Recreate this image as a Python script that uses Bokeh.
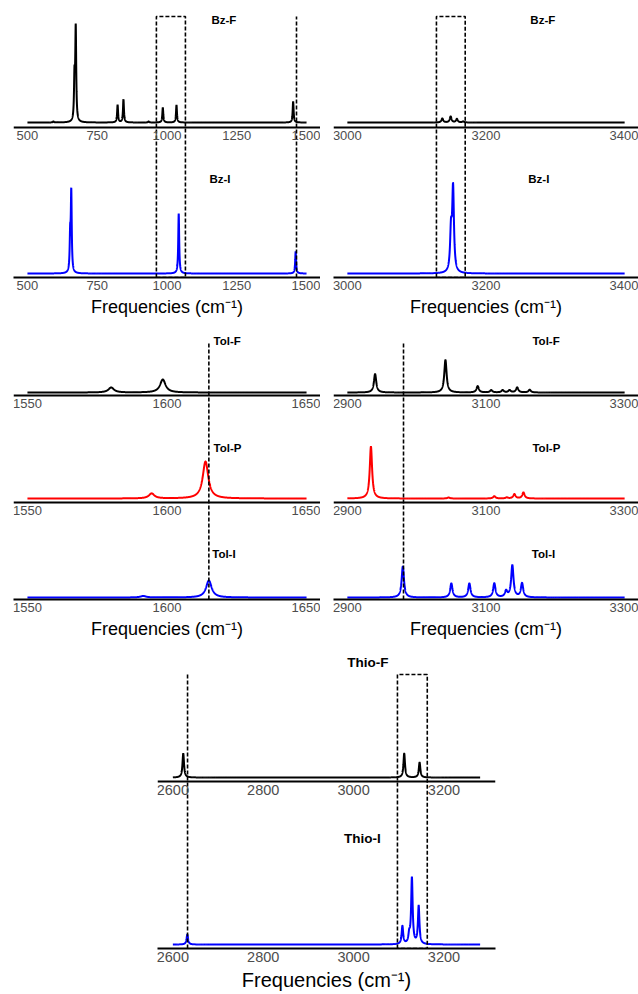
import numpy as np
from bokeh.plotting import figure
from bokeh.models import LinearAxis, FixedTicker, Range1d
from bokeh.layouts import column, row
from bokeh.embed import file_html
from bokeh.resources import INLINE
from bokeh.core.properties import value

# ---------------- data: peak positions (cm-1) and intensities (a.u.) ----------------
# Benzene, low-frequency window
bzF_lo_pos = [593, 668.5, 673, 823, 844, 934, 985, 1034, 1452]
bzF_lo_int = [1.0, 42, 92, 17.5, 23, 1.0, 15, 17.5, 21]
bzI_lo_pos = [653, 657, 1042, 1461]
bzI_lo_int = [34, 79, 60, 22]
# Benzene, C-H stretch window
bzF_hi_pos = [3137, 3149, 3158, 3167]
bzF_hi_int = [4.0, 6.0, 3.5, 1.0]
bzI_hi_pos = [3149.5, 3152.5]
bzI_hi_int = [39, 83]
# Toluene, ring-stretch window
tolF_lo_pos = [1580, 1598.5]
tolF_lo_int = [5, 13]
tolP_lo_pos = [1594.5, 1613.8]
tolP_lo_int = [5, 37]
tolI_lo_pos = [1591.5, 1615]
tolI_lo_int = [1.5, 17]
# Toluene, C-H stretch window
tolF_hi_pos = [2940, 3041.5, 3088, 3107.5, 3124, 3134, 3145, 3163]
tolF_hi_int = [18.5, 32.5, 6.3, 2.3, 2.3, 2.3, 5.0, 2.7]
tolP_hi_pos = [2934, 3046, 3112, 3130, 3141, 3154]
tolP_hi_int = [52, 1.0, 2.3, 1.0, 4.3, 6.0]
tolI_hi_pos = [2980, 3050, 3076, 3112, 3129, 3138, 3152]
tolI_hi_int = [31, 14, 14, 14, 6, 32, 14]
# Thiophene
thioF_pos = [2623, 3112, 3146]
thioF_int = [24, 24, 15]
thioI_pos = [2632, 3108, 3123, 3129, 3144]
thioI_int = [10, 18, 8.6, 66, 38]

# marker frequencies (dashed guides)
bz_lo_box = [962, 1066]
bz_lo_line = [1464]
bz_hi_box = [3128.5, 3170]
tol_lo_line = [1615]
tol_hi_line = [2981]
thio_line = [2632.5]
thio_box = [3097, 3163]

# tick labels
ticks_bz_lo = [500, 750, 1000, 1250, 1500]
ticks_bz_hi = [3000, 3200, 3400]
ticks_tol_lo = [1550, 1600, 1650]
ticks_tol_hi = [2900, 3100, 3300]
ticks_thio = [2600, 2800, 3000, 3200]

FONT = "Liberation Sans"
TITLE = "Frequencies (cm\u207b\u00b9)"


def spectrum(pos, inten, lo, hi, hwhm, step):
    x = np.arange(lo, hi + step / 2, step)
    y = np.zeros_like(x)
    for p0, a in zip(pos, inten):
        y += a / (1.0 + ((x - p0) / hwhm) ** 2)
    return x, y


def style_axis(ax, ticks, tick_size):
    ax.ticker = FixedTicker(ticks=ticks)
    ax.axis_line_color = "black"
    ax.axis_line_width = 1.9
    ax.major_tick_line_color = None
    ax.minor_tick_line_color = None
    ax.major_tick_out = 0
    ax.major_tick_in = 0
    ax.major_label_standoff = 3
    ax.major_label_text_font = FONT
    ax.major_label_text_font_size = tick_size
    ax.major_label_text_color = "#4d4d4d"


def make_fig(width, height, xr, frame_h, min_left, min_right, bottom, ticks,
             tick_size, title_size):
    p = figure(width=width, height=height, x_range=Range1d(*xr),
               y_range=Range1d(0, frame_h), output_backend="svg",
               toolbar_location=None, y_axis_location=None,
               min_border_left=min_left, min_border_right=min_right,
               min_border_top=0, min_border_bottom=bottom,
               outline_line_color=None, background_fill_color="white",
               border_fill_color="white")
    p.grid.visible = False
    ax = p.xaxis[0]
    style_axis(ax, ticks, tick_size)
    ax.axis_label = TITLE
    ax.axis_label_text_font = FONT
    ax.axis_label_text_font_size = title_size
    ax.axis_label_text_font_style = "normal"
    ax.axis_label_text_color = "black"
    ax.axis_label_standoff = 4
    return p


def add_fixed_axis(p, loc, ticks, tick_size):
    ax = LinearAxis(fixed_location=loc)
    style_axis(ax, ticks, tick_size)
    p.add_layout(ax, "below")


def add_spec(p, pos, inten, lo, hi, hwhm, step, base, color):
    x, y = spectrum(pos, inten, lo, hi, hwhm, step)
    p.line(x, y + base, line_color=color, line_width=2.0)


def add_label(p, x, y, txt, size):
    p.text(x=[x], y=[y], text=[txt], text_font=value(FONT),
           text_font_style="bold", text_font_size=size,
           text_baseline="middle", text_align="left", text_color="black")


def add_vline(p, x, top):
    p.line([x, x], [0, top], line_color="black", line_width=1.6, line_dash="4 2")


def add_box(p, x0, x1, top):
    p.line([x0, x0, x1, x1, x0], [0, top, top, 0, 0], line_color="black",
           line_width=1.6, line_dash="4 2")


LBL = "11.5px"

# ---------------- top row: benzene ----------------
pA = make_fig(320, 322, (450, 1550), 277, 13, 0, 45, ticks_bz_lo, "13px", "18px")
add_fixed_axis(pA, 150, ticks_bz_lo, "13px")
add_spec(pA, bzF_lo_pos, bzF_lo_int, 500, 1500, 2.0, 0.25, 155, "black")
add_spec(pA, bzI_lo_pos, bzI_lo_int, 500, 1500, 2.0, 0.25, 4, "blue")
add_box(pA, bz_lo_box[0], bz_lo_box[1], 261)
add_vline(pA, bz_lo_line[0], 261)
add_label(pA, 1159, 258, "Bz-F", LBL)
add_label(pA, 1152, 99, "Bz-I", LBL)

pB = make_fig(318, 322, (2980, 3420), 277, 13, 0, 45, ticks_bz_hi, "13px", "18px")
add_fixed_axis(pB, 150, ticks_bz_hi, "13px")
add_spec(pB, bzF_hi_pos, bzF_hi_int, 3000, 3400, 1.5, 0.1, 155, "black")
add_spec(pB, bzI_hi_pos, bzI_hi_int, 3000, 3400, 1.5, 0.1, 4, "blue")
add_box(pB, bz_hi_box[0], bz_hi_box[1], 261)
add_label(pB, 3264, 258, "Bz-F", LBL)
add_label(pB, 3261, 99, "Bz-I", LBL)

# ---------------- middle row: toluene ----------------
pC = make_fig(320, 323, (1545, 1655), 277, 13, 0, 46, ticks_tol_lo, "13px", "18px")
add_fixed_axis(pC, 204, ticks_tol_lo, "13px")
add_fixed_axis(pC, 97, ticks_tol_lo, "13px")
add_spec(pC, tolF_lo_pos, tolF_lo_int, 1550, 1650, 1.2, 0.05, 207, "black")
add_spec(pC, tolP_lo_pos, tolP_lo_int, 1550, 1650, 1.2, 0.05, 101, "red")
add_spec(pC, tolI_lo_pos, tolI_lo_int, 1550, 1650, 1.2, 0.05, 2, "blue")
add_vline(pC, tol_lo_line[0], 258)
add_label(pC, 1616.7, 259, "Tol-F", LBL)
add_label(pC, 1616.7, 152, "Tol-P", LBL)
add_label(pC, 1616.2, 46, "Tol-I", LBL)

pD = make_fig(318, 323, (2880, 3320), 277, 13, 0, 46, ticks_tol_hi, "13px", "18px")
add_fixed_axis(pD, 204, ticks_tol_hi, "13px")
add_fixed_axis(pD, 97, ticks_tol_hi, "13px")
add_spec(pD, tolF_hi_pos, tolF_hi_int, 2900, 3300, 2.0, 0.1, 207, "black")
add_spec(pD, tolP_hi_pos, tolP_hi_int, 2900, 3300, 2.0, 0.1, 101, "red")
add_spec(pD, tolI_hi_pos, tolI_hi_int, 2900, 3300, 2.0, 0.1, 2, "blue")
add_vline(pD, tol_hi_line[0], 258)
add_label(pD, 3167, 259, "Tol-F", LBL)
add_label(pD, 3167, 152, "Tol-P", LBL)
add_label(pD, 3166, 46, "Tol-I", LBL)

# ---------------- bottom: thiophene ----------------
pE = make_fig(638, 349, (2566, 3314), 303, 157, 143, 46, ticks_thio, "14.5px", "20px")
add_fixed_axis(pE, 167, ticks_thio, "14.5px")
add_spec(pE, thioF_pos, thioF_int, 2600, 3280, 2.0, 0.1, 171, "black")
add_spec(pE, thioI_pos, thioI_int, 2600, 3280, 2.0, 0.1, 4, "blue")
add_vline(pE, thio_line[0], 274)
add_box(pE, thio_box[0], thio_box[1], 274)
add_label(pE, 2986, 286, "Thio-F", "13.5px")
add_label(pE, 2979, 110, "Thio-I", "13.5px")

layout = column(row(pA, pB), row(pC, pD), pE)
open("out.html", "w").write(file_html(layout, INLINE))
